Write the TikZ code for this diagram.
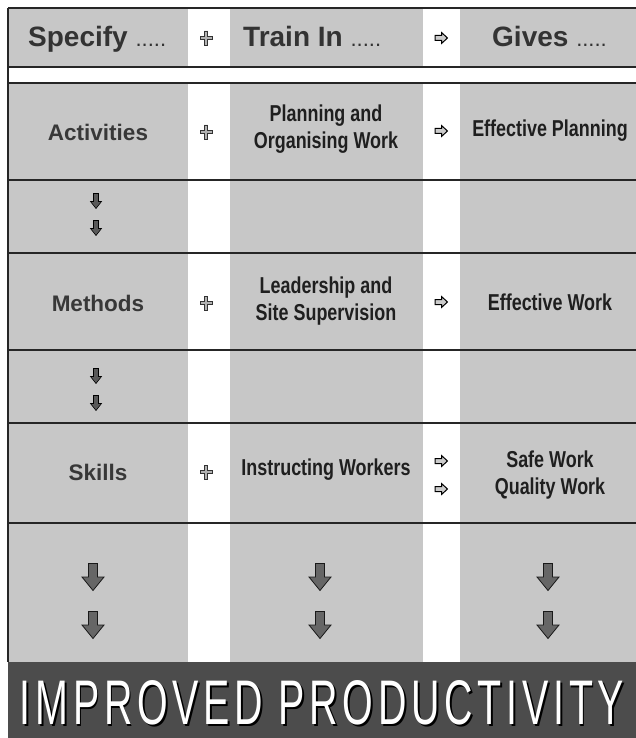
\documentclass[tikz,border=0pt]{standalone}
\usepackage{fontspec}
\setmainfont{Liberation Sans}
\newfontfamily\narrowfont[FakeStretch=0.78]{Liberation Sans}
\newfontfamily\bannerfont[LetterSpace=12]{Liberation Sans}
\newcommand{\leaderdots}{{\fontsize{22}{22}\selectfont\mdseries.....}}
% white lettering with a dark drop shadow, set as one box
\newcommand{\shadowed}[1]{%
  \makebox[0pt][l]{\hspace{1.8pt}\raisebox{-1.8pt}[0pt][0pt]{\color{black}#1}}%
  {\color{white}#1}}
\newcommand{\bannerword}{\resizebox{604pt}{44pt}{\bannerfont IMPROVED PRODUCTIVITY}}
\begin{document}
\begin{tikzpicture}[x=1pt,y=-1pt,
  cell/.style={fill=black!22},
  rule/.style={draw=black!85, line width=1.2pt},
  headtext/.style={anchor=base west, inner sep=0,
    font=\fontsize{28}{30}\selectfont\bfseries, text=black!80},
  rowlabel/.style={inner sep=0,
    font=\fontsize{22.5}{24}\selectfont\bfseries, text=black!78},
  celltext/.style={inner sep=0, align=center,
    font=\narrowfont\fontsize{23}{27}\selectfont\bfseries, text=black!88},
  darrsmall/.pic={\filldraw[fill=black!65, draw=black, line width=0.6pt]
    (-2.5,-7.5) -- (2.5,-7.5) -- (2.5,0.5) -- (5.5,0.5) -- (0,7.5)
    -- (-5.5,0.5) -- (-2.5,0.5) -- cycle;},
  darrbig/.pic={\filldraw[fill=black!60, draw=black!90, line width=0.8pt]
    (-4.5,-13.5) -- (4.5,-13.5) -- (4.5,0) -- (11,0) -- (0,13.5)
    -- (-11,0) -- (-4.5,0) -- cycle;},
  rarr/.pic={\filldraw[fill=black!20, draw=black, line width=1pt]
    (-6,-2.5) -- (0.5,-2.5) -- (0.5,-5.5) -- (6.5,0) -- (0.5,5.5)
    -- (0.5,2.5) -- (-6,2.5) -- cycle;},
  plusmark/.pic={\filldraw[fill=black!30, draw=black!80, line width=0.8pt]
    (-1.8,-7) -- (1.8,-7) -- (1.8,-1.8) -- (6,-1.8) -- (6,1.8)
    -- (1.8,1.8) -- (1.8,7) -- (-1.8,7) -- (-1.8,1.8) -- (-6,1.8)
    -- (-6,-1.8) -- (-1.8,-1.8) -- cycle;},
]
\useasboundingbox (0,0) rectangle (636,738);

% shaded cells of the three columns
\foreach \ya/\yb in {8/67,83/180,180/253,253/350,350/423,423/523,523/662}
  \foreach \xa/\xb in {8/188,230/423,460/636}
    \fill[cell] (\xa,\ya) rectangle (\xb,\yb);

% result band
\fill[black!70] (8,662) rectangle (636,738);

% row rules and left border
\foreach \y in {8,67,83,180,253,350,423,523}
  \draw[rule] (8,\y) -- (636,\y);
\draw[rule] (8,8) -- (8,662);

% header
\node[headtext] (hspec)  at (28,47)  {Specify \leaderdots};
\node[headtext] (htrain) at (243,47) {Train In \leaderdots};
\node[headtext] (hgives) at (492,47) {Gives \leaderdots};

% left column
\node[rowlabel] (act)  at (98,132) {Activities};
\node[rowlabel] (meth) at (98,303) {Methods};
\node[rowlabel] (skil) at (98,472) {Skills};

% middle column
\node[celltext] (plan) at (326,129) {Planning and\\Organising Work};
\node[celltext] (lead) at (326,301) {Leadership and\\Site Supervision};
\node[celltext] (inst) at (326,470) {Instructing Workers};

% right column
\node[celltext] (effp) at (550,131) {Effective Planning};
\node[celltext] (effw) at (550,302) {Effective Work};
\node[celltext] (safe) at (550,475) {Safe Work\\Quality Work};

% plus marks between first and second columns
\foreach \y in {38,132,303,472}
  \pic at (206,\y) {plusmark};

% arrows between second and third columns
\foreach \y in {38,131,302,461,489}
  \pic at (441,\y) {rarr};

% small down arrows in the first column
\foreach \y in {201,228,376,403}
  \pic at (96,\y) {darrsmall};

% large down arrows above the band
\foreach \x in {93,320,548}
  \foreach \y in {577,625}
    \pic at (\x,\y) {darrbig};

% banner text
\node[inner sep=0] (banner) at (322,703) {\shadowed{\bannerword}};
\end{tikzpicture}
\end{document}
